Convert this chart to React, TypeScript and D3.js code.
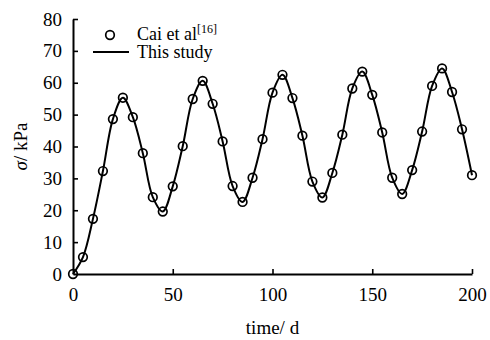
import React, { useEffect, useRef } from 'react';
import * as d3 from 'd3';

// measured points (Cai et al), every 5 days
const days = [
  0, 5, 10, 15, 20, 25, 30, 35, 40, 45, 50, 55, 60, 65, 70, 75, 80, 85, 90, 95, 100,
  105, 110, 115, 120, 125, 130, 135, 140, 145, 150, 155, 160, 165, 170, 175, 180, 185, 190, 195, 200,
];
const caiStress = [
  0, 5.3, 17.3, 32.3, 48.6, 55.3, 49.2, 37.9, 24.1, 19.6, 27.5, 40.1, 54.9, 60.6, 53.4, 41.6, 27.6, 22.6, 30.2, 42.3, 56.9,
  62.5, 55.2, 43.4, 29.0, 24.0, 31.7, 43.7, 58.2, 63.5, 56.2, 44.4, 30.2, 25.1, 32.6, 44.7, 59.0, 64.5, 57.1, 45.4, 31.0,
];
// model curve ("This study") passes through the same readings
const studyStress = caiStress;

const xTicks = [0, 50, 100, 150, 200];
const yTicks = [0, 10, 20, 30, 40, 50, 60, 70, 80];

export default function App() {
  const svgRef = useRef<SVGSVGElement>(null);

  useEffect(() => {
    const svg = d3.select(svgRef.current);
    svg.selectAll('*').remove();

    const width = 490,
      height = 340;
    const margin = { top: 19, right: 18, bottom: 66, left: 73 };
    const font = '"Liberation Serif", "Times New Roman", serif';
    const fs = 19;

    const x = d3.scaleLinear().domain([0, 200]).range([margin.left, width - margin.right]);
    const y = d3.scaleLinear().domain([0, 80]).range([height - margin.bottom, margin.top]);

    const xAxis = svg
      .append('g')
      .attr('transform', `translate(0,${height - margin.bottom})`)
      .call(d3.axisBottom(x).tickValues(xTicks).tickSizeInner(-5).tickSizeOuter(0).tickPadding(14));
    const yAxis = svg
      .append('g')
      .attr('transform', `translate(${margin.left},0)`)
      .call(d3.axisLeft(y).tickValues(yTicks).tickSizeInner(-5).tickSizeOuter(0).tickPadding(11));

    [xAxis, yAxis].forEach((g) => {
      g.select('.domain').attr('stroke', '#000').attr('stroke-width', 2);
      g.selectAll('.tick line').attr('stroke', '#000').attr('stroke-width', 1.6);
      g.selectAll('.tick text').attr('font-family', font).attr('font-size', fs).attr('fill', '#000');
    });
    xAxis.selectAll('.tick').filter((d) => d === 0).select('line').remove();
    yAxis.selectAll('.tick').filter((d) => d === 0).select('line').remove();

    const pts = days.map((d, i) => [d, studyStress[i]] as [number, number]);
    const line = d3
      .line<[number, number]>()
      .x((d) => x(d[0]))
      .y((d) => y(d[1]))
      .curve(d3.curveCatmullRom.alpha(0.5));

    svg
      .append('path')
      .datum(pts)
      .attr('d', line)
      .attr('fill', 'none')
      .attr('stroke', '#000')
      .attr('stroke-width', 2);

    svg
      .append('g')
      .selectAll('circle')
      .data(days.map((d, i) => [d, caiStress[i]]))
      .enter()
      .append('circle')
      .attr('cx', (d) => x(d[0]))
      .attr('cy', (d) => y(d[1]))
      .attr('r', 4.3)
      .attr('fill', 'none')
      .attr('stroke', '#000')
      .attr('stroke-width', 1.7);

    // legend
    const lg = svg.append('g').attr('font-family', font).attr('font-size', 18);
    lg.append('circle')
      .attr('cx', 110)
      .attr('cy', 35)
      .attr('r', 4.3)
      .attr('fill', 'none')
      .attr('stroke', '#000')
      .attr('stroke-width', 1.7);
    const t1 = lg.append('text').attr('x', 137).attr('y', 39.5);
    t1.append('tspan').text('Cai et al');
    t1.append('tspan').attr('font-size', 12).attr('dy', -7).text('[16]');
    lg.append('line')
      .attr('x1', 93)
      .attr('x2', 129)
      .attr('y1', 52)
      .attr('y2', 52)
      .attr('stroke', '#000')
      .attr('stroke-width', 2);
    lg.append('text').attr('x', 137).attr('y', 58).text('This study');

    // axis titles
    svg
      .append('text')
      .attr('x', (margin.left + width - margin.right) / 2)
      .attr('y', 334)
      .attr('text-anchor', 'middle')
      .attr('font-family', font)
      .attr('font-size', fs)
      .text('time/ d');

    const yl = svg
      .append('text')
      .attr('transform', `translate(27,${(margin.top + height - margin.bottom) / 2}) rotate(-90)`)
      .attr('text-anchor', 'middle')
      .attr('font-family', font)
      .attr('font-size', fs);
    yl.append('tspan').attr('font-style', 'italic').text('σ');
    yl.append('tspan').text('/ kPa');
  }, []);

  return (
    <svg
      ref={svgRef}
      width={490}
      height={340}
      style={{ position: 'absolute', left: 0, top: 0, background: '#fff' }}
    />
  );
}
